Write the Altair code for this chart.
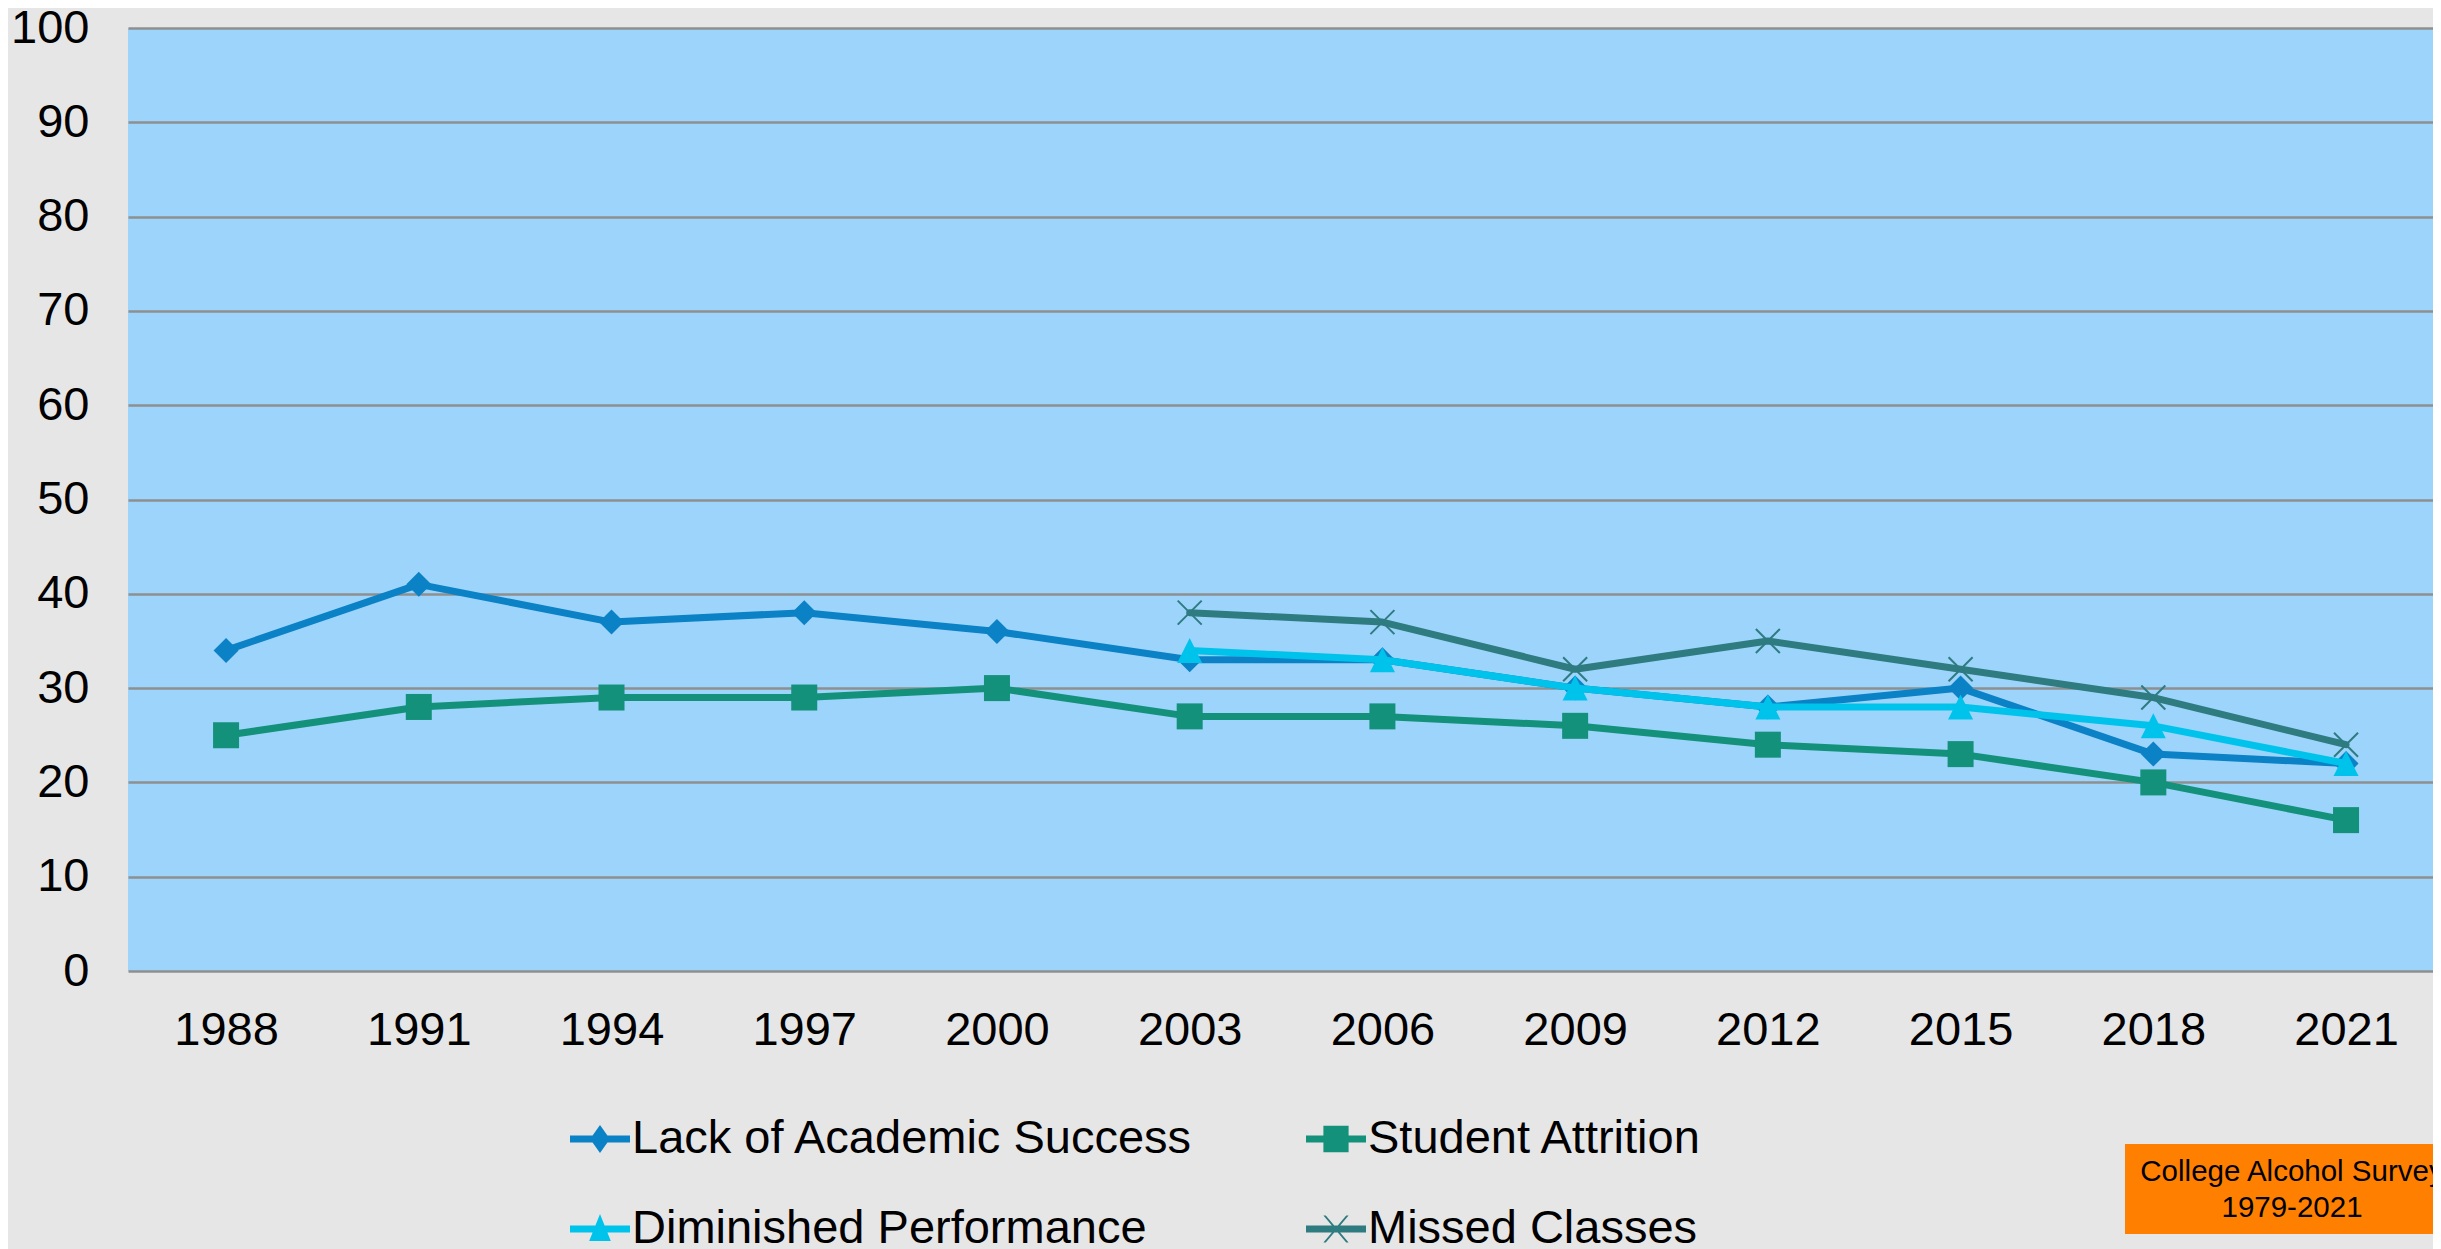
import altair as alt
import pandas as pd

years = ["1988", "1991", "1994", "1997", "2000", "2003", "2006", "2009", "2012", "2015", "2018", "2021"]
lack = [34, 41, 37, 38, 36, 33, 33, 30, 28, 30, 23, 22]
attrition = [25, 28, 29, 29, 30, 27, 27, 26, 24, 23, 20, 16]
diminished = [None, None, None, None, None, 34, 33, 30, 28, 28, 26, 22]
missed = [None, None, None, None, None, 38, 37, 32, 35, 32, 29, 24]

names = ["Lack of Academic Success", "Student Attrition", "Diminished Performance", "Missed Classes"]
colors = ["#0b81c6", "#13917a", "#00c3ec", "#2e7b80"]
series_values = [lack, attrition, diminished, missed]

rows = []
for name, vals in zip(names, series_values):
    for yr, v in zip(years, vals):
        if v is not None:
            rows.append({"year": yr, "value": v, "series": name})
df = pd.DataFrame(rows)

FONT = "Liberation Sans"
W, H = 2305, 943

X = alt.X("year:O", sort=years, scale=alt.Scale(domain=years, padding=0.48, align=0.53),
          axis=alt.Axis(title=None, labelAngle=0, labelFontSize=47, labelFont=FONT,
                        labelColor="#000000", labelPadding=36, ticks=False, domain=False,
                        grid=False))
Y = alt.Y("value:Q", scale=alt.Scale(domain=[0, 100], nice=False),
          axis=alt.Axis(title=None, values=list(range(0, 101, 10)), labelFontSize=47,
                        labelFont=FONT, labelColor="#000000", labelPadding=39, ticks=False,
                        domain=False, grid=True, gridColor="#8f8f8f", gridWidth=2.5))

x_path = "M-1,-1L1,1M-1,1L1,-1"
tri_path = "M0,-1L1,1L-1,1Z"
markers = [
    dict(shape="diamond", filled=True, size=625),
    dict(shape="square", filled=True, size=676),
    dict(shape=tri_path, filled=True, size=625),
    dict(shape=x_path, filled=False, size=576, strokeWidth=2),
]

layers = []
for name, col, mk in zip(names, colors, markers):
    base = alt.Chart(df).transform_filter(alt.datum.series == name)
    layers.append(base.mark_line(color=col, strokeWidth=7, strokeJoin="round",
                                 strokeCap="round").encode(x=X, y=Y))
    layers.append(base.mark_point(color=col, opacity=1, **mk).encode(x=X, y=Y))

rect_line = "M-1,-0.12L1,-0.12L1,0.12L-1,0.12Z"
legend_paths = [
    rect_line + "M-0.33,0L0,-0.47L0.33,0L0,0.47Z",
    rect_line + "M-0.42,-0.44L0.42,-0.44L0.42,0.44L-0.42,0.44Z",
    rect_line + "M0,-0.5L0.36,0.4L-0.36,0.4Z",
    rect_line + "M-0.42,-0.45L-0.34,-0.45L0.42,0.45L0.34,0.45Z"
    + "M0.34,-0.45L0.42,-0.45L-0.34,0.45L-0.42,0.45Z",
]

leg = dict(title=None, orient="none", legendX=442, legendY=1081, columns=2,
           direction="horizontal",
           columnPadding=112, rowPadding=37, symbolSize=3600, symbolStrokeWidth=0,
           symbolOpacity=1, labelFontSize=47, labelFont=FONT, labelColor="#000000",
           labelOffset=2, labelLimit=2000, padding=0)

legend_layer = alt.Chart(df).transform_filter("false").mark_point(
    filled=True, opacity=1, size=3600
).encode(
    x=X, y=Y,
    color=alt.Color("series:N", scale=alt.Scale(domain=names, range=colors), legend=alt.Legend(**leg)),
    shape=alt.Shape("series:N", scale=alt.Scale(domain=names, range=legend_paths), legend=alt.Legend(**leg)),
)
layers.append(legend_layer)

note = pd.DataFrame({"note": ["College Alcohol Survey\n1979-2021"]})
box = alt.Chart(note).mark_rect(color="#ff8000").encode(
    x=alt.value(1997), x2=alt.value(2330), y=alt.value(1116), y2=alt.value(1206)
)
box_text = alt.Chart(note).mark_text(
    font=FONT, fontSize=29.5, color="#000000", align="center", baseline="middle",
    lineBreak="\n", lineHeight=36
).encode(x=alt.value(2164), y=alt.value(1144), text="note:N")
layers += [box, box_text]

chart = alt.layer(*layers).properties(
    width=W, height=H,
    autosize=alt.AutoSizeParams(type="none"),
    padding={"left": 120, "top": 20, "right": 0, "bottom": 278},
    background="#e6e6e6",
).configure_view(fill="#9dd4fb", strokeWidth=0)

chart.save("out.html", embed_options={"renderer": "svg", "actions": False})
